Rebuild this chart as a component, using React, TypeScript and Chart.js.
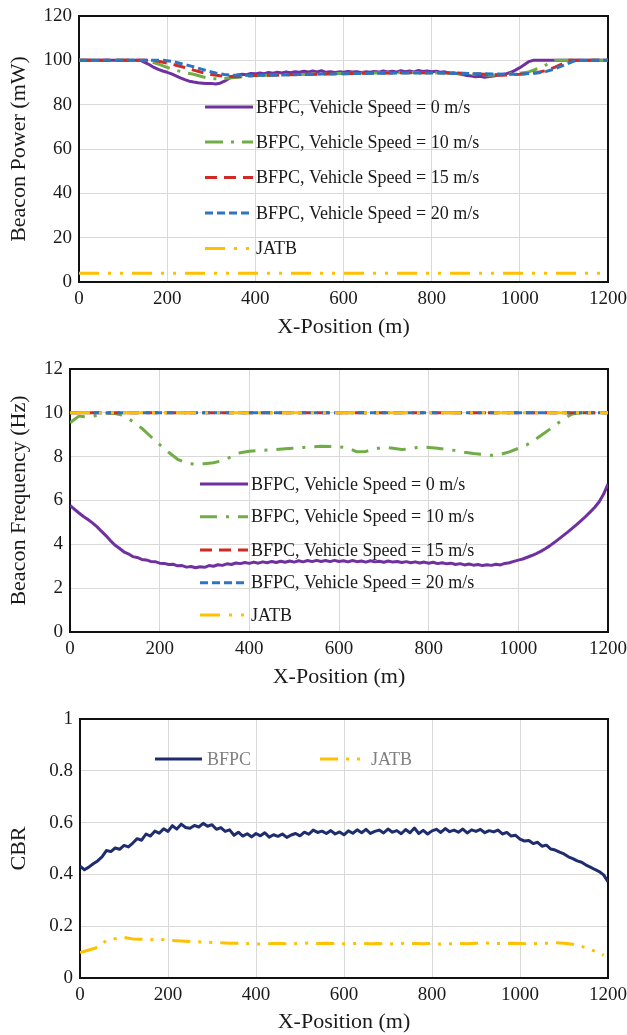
import React, { useEffect, useRef } from "react";
import { Chart, registerables } from "chart.js";

Chart.register(...registerables);

const FONT = '"Liberation Serif", "Times New Roman", Times, serif';
const TEXT = "#1a1a1a";
const GRID = "#d9d9d9";
const WIDTH = 627;

// Sample positions along the road (m)
const X_10M = Array.from({ length: 121 }, (_, i) => i * 10);
const X_ENDS = [0, 1200];

// ---------- Beacon power (mW) ----------
const POWER_V0 = [
  100, 100, 100, 100, 100, 100, 100, 100, 100, 100, 100, 100, 100, 100, 100,
  99.0, 98.0, 96.8, 95.9, 95.2, 94.6, 93.9, 93.0, 92.1, 91.3, 90.6, 90.2, 89.9, 89.7, 89.5,
  89.6, 89.3, 89.7, 90.6, 91.8, 92.9, 93.4, 93.7, 93.5, 94.1, 93.9, 94.3, 94.0, 94.5, 94.2,
  94.6, 94.3, 94.8, 94.4, 94.9, 94.6, 95.1, 94.7, 95.2, 94.8, 95.3, 94.6, 94.9, 94.5, 94.8,
  94.6, 95.0, 94.7, 94.9, 94.5, 94.8, 94.6, 95.0, 94.7, 95.2, 94.8, 95.1, 94.7, 95.3, 94.9,
  95.2, 94.8, 95.4, 95.0, 95.2, 94.9, 95.1, 94.6, 94.8, 94.3, 94.4, 93.9, 93.6, 93.2, 92.9,
  92.6, 92.8, 92.4, 92.7, 92.9, 93.3, 93.6, 94.0, 94.6, 95.6, 96.7, 98.0, 99.4,
  100, 100, 100, 100, 100, 100, 100, 100, 100, 100, 100, 100, 100, 100, 100, 100, 100, 100,
];
const POWER_V10_X = [0, 150, 160, 180, 200, 220, 240, 260, 280, 300, 320, 340, 360, 380, 400, 450, 500, 550, 600, 650, 700, 750, 800, 850, 900, 930, 960, 1000, 1020, 1040, 1060, 1075, 1080, 1200];
const POWER_V10 = [100, 100, 99.6, 98.3, 96.8, 95.5, 94.5, 93.7, 92.6, 91.7, 91.6, 92.0, 92.4, 92.8, 93.1, 93.4, 93.6, 93.9, 94.1, 94.3, 94.4, 94.5, 94.4, 94.2, 93.7, 93.3, 93.6, 94.2, 94.8, 96.2, 98.0, 99.6, 100, 100];
const POWER_V15_X = [0, 170, 180, 200, 220, 240, 260, 280, 300, 320, 340, 360, 380, 400, 450, 500, 550, 600, 650, 700, 750, 800, 850, 900, 930, 960, 1000, 1040, 1060, 1080, 1100, 1110, 1200];
const POWER_V15 = [100, 100, 99.6, 98.8, 97.8, 96.8, 95.6, 94.5, 93.6, 93.0, 92.7, 92.6, 92.9, 93.2, 93.4, 93.6, 93.8, 94.0, 94.2, 94.3, 94.4, 94.4, 94.3, 94.0, 93.6, 93.3, 93.7, 94.5, 95.4, 96.9, 98.8, 100, 100];
const POWER_V20_X = [0, 190, 210, 230, 250, 270, 290, 310, 330, 350, 400, 450, 500, 550, 600, 650, 700, 750, 800, 850, 900, 950, 980, 1000, 1040, 1060, 1080, 1100, 1120, 1130, 1200];
const POWER_V20 = [100, 100, 99.6, 98.6, 97.6, 96.5, 95.3, 94.3, 93.6, 93.3, 93.2, 93.4, 93.6, 93.8, 94.0, 94.1, 94.2, 94.3, 94.3, 94.1, 94.0, 93.8, 93.7, 93.8, 94.3, 95.0, 96.2, 97.8, 99.4, 100, 100];
const POWER_JATB = [4, 4];

// ---------- Beacon frequency (Hz) ----------
const FREQ_V0 = [
  5.78, 5.60, 5.43, 5.27, 5.13, 4.98, 4.81, 4.60, 4.40, 4.17, 3.97, 3.82, 3.66, 3.57, 3.44,
  3.40, 3.31, 3.29, 3.22, 3.21, 3.14, 3.13, 3.08, 3.09, 3.02, 3.03, 2.96, 2.99, 2.93, 2.98,
  2.95, 3.03, 3.00, 3.07, 3.04, 3.11, 3.08, 3.15, 3.12, 3.17, 3.13, 3.19, 3.14, 3.20, 3.16,
  3.22, 3.17, 3.23, 3.18, 3.24, 3.19, 3.25, 3.20, 3.26, 3.21, 3.27, 3.22, 3.26, 3.21, 3.27,
  3.22, 3.25, 3.20, 3.26, 3.21, 3.24, 3.19, 3.25, 3.20, 3.23, 3.18, 3.24, 3.19, 3.22, 3.17,
  3.21, 3.16, 3.20, 3.15, 3.19, 3.14, 3.18, 3.12, 3.16, 3.11, 3.14, 3.08, 3.12, 3.06, 3.10,
  3.05, 3.08, 3.03, 3.07, 3.04, 3.09, 3.06, 3.13, 3.16, 3.22, 3.28, 3.33, 3.41, 3.49, 3.58,
  3.68, 3.80, 3.93, 4.08, 4.24, 4.40, 4.56, 4.73, 4.90, 5.08, 5.27, 5.47, 5.68, 5.93, 6.28, 6.75,
];
const FREQ_V10_X = [0, 20, 40, 60, 80, 100, 120, 140, 160, 180, 200, 220, 240, 260, 280, 300, 320, 340, 360, 380, 400, 440, 480, 520, 560, 600, 620, 640, 660, 680, 700, 720, 740, 760, 780, 800, 820, 840, 860, 880, 900, 920, 940, 960, 980, 1000, 1020, 1040, 1060, 1080, 1100, 1120, 1140, 1200];
const FREQ_V10 = [9.55, 9.85, 9.80, 9.88, 9.98, 9.97, 9.88, 9.60, 9.30, 8.92, 8.55, 8.20, 7.88, 7.70, 7.66, 7.68, 7.72, 7.82, 8.00, 8.18, 8.25, 8.30, 8.36, 8.42, 8.48, 8.45, 8.40, 8.22, 8.24, 8.35, 8.43, 8.38, 8.33, 8.36, 8.45, 8.42, 8.38, 8.33, 8.28, 8.20, 8.14, 8.10, 8.06, 8.10, 8.22, 8.38, 8.55, 8.82, 9.10, 9.40, 9.70, 9.95, 10.0, 10.0];
const FREQ_V15 = [10, 10];
const FREQ_V20 = [10, 10];
const FREQ_JATB = [10, 10];

// ---------- Channel busy ratio ----------
const CBR_BFPC = [
  0.432, 0.418, 0.428, 0.441, 0.452, 0.468, 0.492, 0.488, 0.502, 0.497, 0.512, 0.506, 0.521, 0.538, 0.532,
  0.556, 0.548, 0.567, 0.559, 0.576, 0.566, 0.588, 0.575, 0.594, 0.581, 0.578, 0.589, 0.583, 0.597, 0.586,
  0.592, 0.574, 0.581, 0.566, 0.572, 0.551, 0.563, 0.548, 0.557, 0.545, 0.558, 0.549, 0.561, 0.544, 0.553,
  0.547, 0.556, 0.543, 0.552, 0.558, 0.549, 0.563, 0.555, 0.571, 0.562, 0.567, 0.558, 0.569, 0.556, 0.564,
  0.553, 0.568, 0.559, 0.572, 0.561, 0.574, 0.558, 0.566, 0.571, 0.560, 0.575, 0.563, 0.569, 0.557, 0.573,
  0.561, 0.579, 0.558, 0.570, 0.556, 0.568, 0.574, 0.562, 0.577, 0.565, 0.571, 0.563, 0.575, 0.560, 0.572,
  0.566, 0.574, 0.561, 0.569, 0.564, 0.571, 0.556, 0.562, 0.548, 0.551, 0.536, 0.529, 0.531, 0.519, 0.524,
  0.509, 0.513, 0.498, 0.494, 0.486, 0.479, 0.468, 0.461, 0.452, 0.447, 0.436, 0.428, 0.419, 0.411, 0.398, 0.372,
];
const CBR_JATB_X = [0, 20, 40, 60, 80, 100, 120, 140, 160, 180, 200, 220, 240, 260, 280, 300, 320, 340, 360, 380, 400, 420, 440, 460, 480, 500, 520, 540, 560, 580, 600, 620, 640, 660, 680, 700, 720, 740, 760, 780, 800, 820, 840, 860, 880, 900, 920, 940, 960, 980, 1000, 1020, 1040, 1060, 1080, 1100, 1120, 1140, 1160, 1180, 1190];
const CBR_JATB = [0.098, 0.108, 0.118, 0.145, 0.152, 0.157, 0.151, 0.150, 0.148, 0.150, 0.146, 0.144, 0.142, 0.140, 0.139, 0.137, 0.136, 0.134, 0.134, 0.133, 0.131, 0.132, 0.133, 0.133, 0.132, 0.134, 0.135, 0.133, 0.134, 0.133, 0.132, 0.133, 0.134, 0.132, 0.133, 0.131, 0.133, 0.134, 0.133, 0.132, 0.133, 0.131, 0.132, 0.133, 0.132, 0.134, 0.135, 0.134, 0.133, 0.134, 0.133, 0.132, 0.133, 0.134, 0.136, 0.134, 0.130, 0.122, 0.110, 0.098, 0.088];

const LABELS = [
  "BFPC, Vehicle Speed = 0 m/s",
  "BFPC, Vehicle Speed = 10 m/s",
  "BFPC, Vehicle Speed = 15 m/s",
  "BFPC, Vehicle Speed = 20 m/s",
  "JATB",
];

const PURPLE = "#7030a0";
const GREEN = "#70ad47";
const RED = "#d02a24";
const BLUE = "#2e75c0";
const GOLD = "#ffc000";
const NAVY = "#1f2d6e";

type Series = {
  label: string;
  x: number[];
  y: number[];
  color: string;
  dash: number[];
  order: number;
};

type LegendSlot = { x0: number; x1: number; tx: number; y: number };

type Panel = {
  top: number;
  height: number;
  plotLeft: number;
  plotTop: number;
  plotBottom: number;
  plotRight: number;
  yMax: number;
  yStep: number;
  yTitle: string;
  series: Series[];
  legend: LegendSlot[];
  legendColor: string;
};

const points = (x: number[], y: number[]) => x.map((v, i) => ({ x: v, y: y[i] }));

// Plain number labels: no thousands separator, no trailing zeros
const plainNumber = (v: number | string) => String(Math.round(Number(v) * 1000) / 1000);

// Legend drawn inside the plot area, one slot per dataset
const insideLegend = {
  id: "insideLegend",
  afterDatasetsDraw(chart: any, _args: any, opts: any) {
    const ctx = chart.ctx as CanvasRenderingContext2D;
    ctx.save();
    (opts.slots as LegendSlot[]).forEach((s, i) => {
      const ds = chart.data.datasets[i];
      ctx.beginPath();
      ctx.setLineDash(ds.borderDash || []);
      ctx.lineDashOffset = 0;
      ctx.lineCap = "butt";
      ctx.strokeStyle = ds.borderColor;
      ctx.lineWidth = ds.borderWidth;
      ctx.moveTo(s.x0, s.y);
      ctx.lineTo(s.x1, s.y);
      ctx.stroke();
      ctx.setLineDash([]);
      ctx.fillStyle = opts.color;
      ctx.font = `18px ${FONT}`;
      ctx.textAlign = "left";
      ctx.textBaseline = "middle";
      ctx.fillText(ds.label, s.tx, s.y + 1);
    });
    ctx.restore();
  },
};

// Dark frame around the plot area
const plotFrame = {
  id: "plotFrame",
  beforeDatasetsDraw(chart: any) {
    const { left, top, right, bottom } = chart.chartArea;
    const ctx = chart.ctx as CanvasRenderingContext2D;
    ctx.save();
    ctx.strokeStyle = "#111";
    ctx.lineWidth = 2;
    ctx.strokeRect(left, top, right - left, bottom - top);
    ctx.restore();
  },
};

function LineChartPanel({ panel }: { panel: Panel }) {
  const ref = useRef<HTMLCanvasElement>(null);

  useEffect(() => {
    if (!ref.current) return;
    const p = panel;
    const axisH = p.height - p.plotBottom;
    const chart = new Chart(ref.current, {
      type: "line",
      data: {
        datasets: p.series.map((s) => ({
          label: s.label,
          data: points(s.x, s.y),
          borderColor: s.color,
          backgroundColor: s.color,
          borderWidth: 3,
          borderDash: s.dash,
          borderCapStyle: "butt",
          borderJoinStyle: "round",
          pointRadius: 0,
          fill: false,
          tension: 0,
          order: s.order,
        })),
      },
      options: {
        responsive: false,
        animation: false,
        devicePixelRatio: 1,
        layout: { padding: { top: p.plotTop, right: WIDTH - p.plotRight, bottom: 0, left: 0 } },
        plugins: {
          legend: { display: false },
          tooltip: { enabled: false },
          insideLegend: { slots: p.legend, color: p.legendColor },
        } as any,
        scales: {
          x: {
            type: "linear",
            min: 0,
            max: 1200,
            ticks: {
              stepSize: 200,
              padding: 6,
              color: TEXT,
              font: { family: FONT, size: 19 },
              callback: (v: any) => plainNumber(v),
            },
            grid: { color: GRID, drawTicks: false, lineWidth: 1 },
            border: { display: false },
            title: {
              display: true,
              text: "X-Position (m)",
              color: TEXT,
              font: { family: FONT, size: 22 },
              padding: { top: 0, bottom: Math.max(0, axisH - 45 - 13.2) },
            },
            afterFit: (scale: any) => {
              scale.height = axisH;
              // edge labels may overhang; keep the plot edges fixed
              scale.paddingLeft = 0;
              scale.paddingRight = 0;
            },
          },
          y: {
            type: "linear",
            min: 0,
            max: p.yMax,
            ticks: {
              stepSize: p.yStep,
              padding: 7,
              color: TEXT,
              font: { family: FONT, size: 19 },
              callback: (v: any) => plainNumber(v),
            },
            grid: { color: GRID, drawTicks: false, lineWidth: 1 },
            border: { display: false },
            title: {
              display: true,
              text: p.yTitle,
              color: TEXT,
              font: { family: FONT, size: 22 },
              padding: { top: 6, bottom: 0 },
            },
            afterFit: (scale: any) => {
              scale.width = p.plotLeft;
              scale.paddingTop = 0;
              scale.paddingBottom = 0;
            },
          },
        },
      },
      plugins: [plotFrame, insideLegend],
    } as any);
    return () => chart.destroy();
  }, [panel]);

  return (
    <div style={{ position: "absolute", left: 0, top: panel.top, width: WIDTH, height: panel.height }}>
      <canvas ref={ref} width={WIDTH} height={panel.height} style={{ display: "block" }} />
    </div>
  );
}

const powerPanel: Panel = {
  top: 0,
  height: 346,
  plotLeft: 79,
  plotTop: 16,
  plotBottom: 282,
  plotRight: 608,
  yMax: 120,
  yStep: 20,
  yTitle: "Beacon Power (mW)",
  legendColor: TEXT,
  series: [
    { label: LABELS[0], x: X_10M, y: POWER_V0, color: PURPLE, dash: [], order: 4 },
    { label: LABELS[1], x: POWER_V10_X, y: POWER_V10, color: GREEN, dash: [18, 8, 3, 8], order: 3 },
    { label: LABELS[2], x: POWER_V15_X, y: POWER_V15, color: RED, dash: [12, 7], order: 2 },
    { label: LABELS[3], x: POWER_V20_X, y: POWER_V20, color: BLUE, dash: [8, 4], order: 1 },
    { label: LABELS[4], x: X_ENDS, y: POWER_JATB, color: GOLD, dash: [20, 9, 3, 9, 3, 9], order: 0 },
  ],
  legend: [
    { x0: 205, x1: 253, tx: 256, y: 107 },
    { x0: 205, x1: 253, tx: 256, y: 142 },
    { x0: 205, x1: 253, tx: 256, y: 177.5 },
    { x0: 205, x1: 253, tx: 256, y: 213 },
    { x0: 205, x1: 253, tx: 256, y: 248.5 },
  ],
};

const freqPanel: Panel = {
  top: 346,
  height: 346,
  plotLeft: 70,
  plotTop: 23,
  plotBottom: 286,
  plotRight: 608,
  yMax: 12,
  yStep: 2,
  yTitle: "Beacon Frequency (Hz)",
  legendColor: TEXT,
  series: [
    { label: LABELS[0], x: X_10M, y: FREQ_V0, color: PURPLE, dash: [], order: 4 },
    { label: LABELS[1], x: FREQ_V10_X, y: FREQ_V10, color: GREEN, dash: [17, 9, 3, 9], order: 3 },
    { label: LABELS[2], x: X_ENDS, y: FREQ_V15, color: RED, dash: [12, 7], order: 2 },
    { label: LABELS[3], x: X_ENDS, y: FREQ_V20, color: BLUE, dash: [8, 4], order: 1 },
    { label: LABELS[4], x: X_ENDS, y: FREQ_JATB, color: GOLD, dash: [20, 9, 3, 9, 3, 9], order: 0 },
  ],
  legend: [
    { x0: 200, x1: 248, tx: 251, y: 138 },
    { x0: 200, x1: 248, tx: 251, y: 170.7 },
    { x0: 200, x1: 248, tx: 251, y: 204 },
    { x0: 200, x1: 248, tx: 251, y: 236.7 },
    { x0: 200, x1: 248, tx: 251, y: 269 },
  ],
};

const cbrPanel: Panel = {
  top: 692,
  height: 343,
  plotLeft: 80,
  plotTop: 27,
  plotBottom: 286,
  plotRight: 608,
  yMax: 1,
  yStep: 0.2,
  yTitle: "CBR",
  legendColor: "#808080",
  series: [
    { label: "BFPC", x: X_10M, y: CBR_BFPC, color: NAVY, dash: [], order: 1 },
    { label: "JATB", x: CBR_JATB_X, y: CBR_JATB, color: GOLD, dash: [18, 8, 3, 8, 3, 8], order: 0 },
  ],
  legend: [
    { x0: 155, x1: 202, tx: 207, y: 67 },
    { x0: 320, x1: 364, tx: 371, y: 67 },
  ],
};

export default function App() {
  return (
    <div style={{ position: "absolute", left: 0, top: 0, width: WIDTH, height: 1035, background: "#fff" }}>
      <LineChartPanel panel={powerPanel} />
      <LineChartPanel panel={freqPanel} />
      <LineChartPanel panel={cbrPanel} />
    </div>
  );
}
